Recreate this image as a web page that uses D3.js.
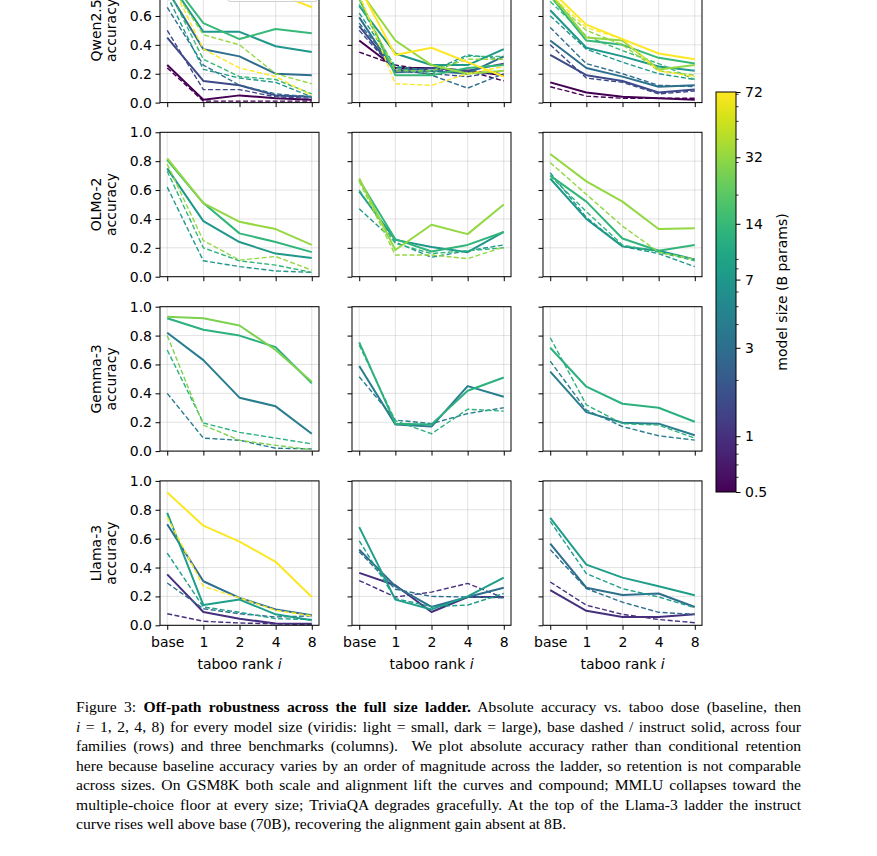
<!DOCTYPE html>
<html>
<head>
<meta charset="utf-8">
<script src="https://cdn.jsdelivr.net/npm/d3@7"></script>
<style>
  body { margin: 0; background: #fff; }
  svg { display: block; }
</style>
</head>
<body>
<script>
// categories
var ranks = ["base", "1", "2", "4", "8"];
var families = ["Qwen2.5", "OLMo-2", "Gemma-3", "Llama-3"];
var benchmarks = ["GSM8K", "MMLU", "TriviaQA"];
var sizeTicks = [0.5, 1, 3, 7, 14, 32, 72];
var sizeMinor = [0.6, 0.7, 0.8, 0.9, 2, 4, 5, 6, 8, 9, 20, 30, 40, 50, 60, 70];

// rows: [model size (B), variant, acc at base, i=1, i=2, i=4, i=8]
var qwenGSM8K = [
  [0.5, "base", 0.24, 0.01, 0.01, 0.01, 0.01],
  [0.5, "instruct", 0.26, 0.02, 0.05, 0.03, 0.02],
  [1.5, "base", 0.50, 0.09, 0.09, 0.04, 0.03],
  [1.5, "instruct", 0.45, 0.15, 0.12, 0.05, 0.04],
  [3, "base", 0.66, 0.26, 0.12, 0.06, 0.04],
  [3, "instruct", 0.78, 0.37, 0.32, 0.20, 0.19],
  [7, "base", 0.74, 0.23, 0.17, 0.14, 0.04],
  [7, "instruct", 0.86, 0.49, 0.49, 0.39, 0.35],
  [14, "base", 0.80, 0.30, 0.18, 0.16, 0.06],
  [14, "instruct", 0.88, 0.55, 0.44, 0.51, 0.48],
  [32, "base", 0.85, 0.47, 0.40, 0.20, 0.13],
  [32, "instruct", 0.93, 0.86, 0.84, 0.80, 0.78],
  [72, "base", 0.88, 0.37, 0.24, 0.18, 0.05],
  [72, "instruct", 0.94, 0.90, 0.86, 0.76, 0.66]
];
var qwenMMLU = [
  [0.5, "base", 0.35, 0.26, 0.22, 0.22, 0.15],
  [0.5, "instruct", 0.43, 0.24, 0.24, 0.22, 0.19],
  [1.5, "base", 0.50, 0.22, 0.20, 0.18, 0.22],
  [1.5, "instruct", 0.53, 0.22, 0.24, 0.22, 0.27],
  [3, "base", 0.55, 0.24, 0.19, 0.10, 0.20],
  [3, "instruct", 0.59, 0.21, 0.22, 0.20, 0.32],
  [7, "base", 0.62, 0.25, 0.22, 0.33, 0.30],
  [7, "instruct", 0.67, 0.34, 0.26, 0.26, 0.37],
  [14, "base", 0.68, 0.24, 0.20, 0.32, 0.32],
  [14, "instruct", 0.72, 0.19, 0.19, 0.24, 0.26],
  [32, "base", 0.72, 0.22, 0.22, 0.30, 0.30],
  [32, "instruct", 0.78, 0.43, 0.26, 0.20, 0.22],
  [72, "base", 0.75, 0.13, 0.12, 0.20, 0.25],
  [72, "instruct", 0.80, 0.33, 0.38, 0.28, 0.18]
];
var qwenTriviaQA = [
  [0.5, "base", 0.11, 0.045, 0.03, 0.03, 0.03],
  [0.5, "instruct", 0.14, 0.07, 0.04, 0.03, 0.02],
  [1.5, "base", 0.40, 0.17, 0.14, 0.06, 0.08],
  [1.5, "instruct", 0.33, 0.19, 0.15, 0.07, 0.09],
  [3, "base", 0.52, 0.27, 0.20, 0.12, 0.11],
  [3, "instruct", 0.43, 0.24, 0.18, 0.11, 0.12],
  [7, "base", 0.60, 0.37, 0.28, 0.20, 0.16],
  [7, "instruct", 0.64, 0.38, 0.32, 0.25, 0.22],
  [14, "base", 0.70, 0.46, 0.36, 0.27, 0.16],
  [14, "instruct", 0.74, 0.43, 0.40, 0.31, 0.27],
  [32, "base", 0.73, 0.50, 0.40, 0.22, 0.19],
  [32, "instruct", 0.76, 0.45, 0.43, 0.23, 0.26],
  [72, "base", 0.75, 0.52, 0.44, 0.22, 0.18],
  [72, "instruct", 0.78, 0.54, 0.44, 0.34, 0.30]
];
var olmoGSM8K = [
  [7, "base", 0.62, 0.11, 0.07, 0.04, 0.03],
  [7, "instruct", 0.75, 0.385, 0.24, 0.16, 0.13],
  [13, "base", 0.73, 0.20, 0.11, 0.08, 0.03],
  [13, "instruct", 0.81, 0.51, 0.30, 0.24, 0.17],
  [32, "base", 0.78, 0.25, 0.115, 0.14, 0.045],
  [32, "instruct", 0.82, 0.51, 0.38, 0.33, 0.22]
];
var olmoMMLU = [
  [7, "base", 0.47, 0.24, 0.135, 0.18, 0.22],
  [7, "instruct", 0.59, 0.255, 0.205, 0.17, 0.31],
  [13, "base", 0.60, 0.23, 0.16, 0.18, 0.20],
  [13, "instruct", 0.67, 0.26, 0.175, 0.22, 0.31],
  [32, "base", 0.66, 0.15, 0.15, 0.125, 0.205],
  [32, "instruct", 0.68, 0.185, 0.36, 0.295, 0.50]
];
var olmoTriviaQA = [
  [7, "base", 0.72, 0.41, 0.21, 0.16, 0.07],
  [7, "instruct", 0.68, 0.40, 0.21, 0.18, 0.12],
  [13, "base", 0.70, 0.45, 0.22, 0.17, 0.11],
  [13, "instruct", 0.70, 0.52, 0.265, 0.18, 0.22],
  [32, "base", 0.79, 0.57, 0.35, 0.17, 0.12],
  [32, "instruct", 0.85, 0.66, 0.52, 0.33, 0.335]
];
var gemmaGSM8K = [
  [4, "base", 0.40, 0.09, 0.075, 0.02, 0.015],
  [4, "instruct", 0.82, 0.63, 0.37, 0.31, 0.12],
  [12, "base", 0.70, 0.195, 0.13, 0.09, 0.05],
  [12, "instruct", 0.92, 0.84, 0.80, 0.72, 0.47],
  [27, "base", 0.80, 0.18, 0.075, 0.04, 0.01],
  [27, "instruct", 0.93, 0.92, 0.87, 0.70, 0.48]
];
var gemmaMMLU = [
  [4, "base", 0.515, 0.215, 0.19, 0.26, 0.30],
  [4, "instruct", 0.59, 0.185, 0.17, 0.45, 0.376],
  [12, "base", 0.735, 0.21, 0.12, 0.29, 0.277],
  [12, "instruct", 0.753, 0.19, 0.185, 0.418, 0.51]
];
var gemmaTriviaQA = [
  [4, "base", 0.623, 0.284, 0.17, 0.106, 0.076],
  [4, "instruct", 0.55, 0.27, 0.196, 0.19, 0.11],
  [12, "base", 0.785, 0.32, 0.19, 0.18, 0.09],
  [12, "instruct", 0.716, 0.446, 0.328, 0.30, 0.203]
];
var llamaGSM8K = [
  [1, "base", 0.08, 0.028, 0.016, 0.01, 0.005],
  [1, "instruct", 0.353, 0.092, 0.046, 0.012, 0.01],
  [3, "base", 0.293, 0.115, 0.08, 0.058, 0.065],
  [3, "instruct", 0.70, 0.305, 0.19, 0.11, 0.07],
  [8, "base", 0.50, 0.127, 0.09, 0.046, 0.04],
  [8, "instruct", 0.778, 0.14, 0.178, 0.076, 0.035],
  [70, "base", 0.75, 0.27, 0.19, 0.104, 0.065],
  [70, "instruct", 0.92, 0.69, 0.58, 0.44, 0.196]
];
var llamaMMLU = [
  [1, "base", 0.31, 0.196, 0.23, 0.29, 0.19],
  [1, "instruct", 0.363, 0.277, 0.092, 0.196, 0.196],
  [3, "base", 0.51, 0.25, 0.20, 0.196, 0.19],
  [3, "instruct", 0.524, 0.27, 0.127, 0.196, 0.26],
  [8, "base", 0.584, 0.185, 0.13, 0.14, 0.22],
  [8, "instruct", 0.68, 0.178, 0.11, 0.20, 0.33]
];
var llamaTriviaQA = [
  [1, "base", 0.30, 0.139, 0.076, 0.04, 0.018],
  [1, "instruct", 0.243, 0.10, 0.058, 0.058, 0.076],
  [3, "base", 0.524, 0.254, 0.16, 0.09, 0.076],
  [3, "instruct", 0.566, 0.26, 0.21, 0.22, 0.127],
  [8, "base", 0.72, 0.358, 0.254, 0.196, 0.122],
  [8, "instruct", 0.744, 0.42, 0.33, 0.27, 0.208]
];

var panels = [
  [qwenGSM8K, qwenMMLU, qwenTriviaQA],
  [olmoGSM8K, olmoMMLU, olmoTriviaQA],
  [gemmaGSM8K, gemmaMMLU, gemmaTriviaQA],
  [llamaGSM8K, llamaMMLU, llamaTriviaQA]
];

// layout
var W = 877, H = 856;
var colX = [160, 352, 543], rowY = [-41.8, 132.3, 306.7, 480.9];
var pw = 159, ph = 144.4;
var font = "'DejaVu Sans', sans-serif", fs = 14;

var svg = d3.select("body").append("svg")
    .attr("width", W)
    .attr("height", H);
svg.append("rect").attr("width", W).attr("height", H).attr("fill", "#fff");

svg.append("defs").append("clipPath")
    .attr("id", "clip")
  .append("rect")
    .attr("width", pw)
    .attr("height", ph);

var x = d3.scalePoint().domain(ranks).range([0, pw]).padding(0.2);
var y = d3.scaleLinear().domain([0, 1]).range([ph, 0]);
var color = d3.scaleSequentialLog(d3.interpolateViridis).domain([0.5, 72]);
var yTicks = [0, 0.2, 0.4, 0.6, 0.8, 1.0];

var line = d3.line()
    .x(function(d, i) { return x(ranks[i]); })
    .y(function(d) { return y(d); });

panels.forEach(function(row, r) {
  row.forEach(function(data, c) {
    var g = svg.append("g")
        .attr("transform", "translate(" + colX[c] + "," + rowY[r] + ")");

    // grid
    g.selectAll(".gy").data(yTicks).enter().append("line")
        .attr("x1", 0).attr("x2", pw)
        .attr("y1", function(d) { return y(d); })
        .attr("y2", function(d) { return y(d); })
        .attr("stroke", "#b0b0b0").attr("stroke-opacity", 0.35).attr("stroke-width", 1);
    g.selectAll(".gx").data(ranks).enter().append("line")
        .attr("x1", function(d) { return x(d); })
        .attr("x2", function(d) { return x(d); })
        .attr("y1", 0).attr("y2", ph)
        .attr("stroke", "#b0b0b0").attr("stroke-opacity", 0.35).attr("stroke-width", 1);

    // series
    var lines = g.append("g").attr("clip-path", "url(#clip)");
    data.forEach(function(d) {
      var solid = d[1] === "instruct";
      lines.append("path")
          .attr("d", line(d.slice(2)))
          .attr("fill", "none")
          .attr("stroke", color(d[0]))
          .attr("stroke-width", solid ? 2 : 1.4)
          .attr("stroke-dasharray", solid ? null : "5,2.4")
          .attr("stroke-linejoin", "round");
    });

    // axes
    var yAxis = d3.axisLeft(y).tickValues(yTicks).tickSize(4.5).tickPadding(3.5)
        .tickFormat(c === 0 ? d3.format(".1f") : "");
    var xAxis = d3.axisBottom(x).tickSize(4.5).tickPadding(3.5)
        .tickFormat(r === 3 ? null : "");
    var gY = g.append("g").call(yAxis);
    var gX = g.append("g").attr("transform", "translate(0," + ph + ")").call(xAxis);
    [gX, gY].forEach(function(a) {
      a.select(".domain").remove();
      a.selectAll(".tick line").attr("stroke", "#000").attr("stroke-width", 1);
      a.selectAll("text").attr("fill", "#000")
          .attr("font-family", font).attr("font-size", fs);
    });
    gX.selectAll("text").attr("dy", "1em");

    g.append("rect")
        .attr("width", pw).attr("height", ph)
        .attr("fill", "none").attr("stroke", "#000").attr("stroke-width", 1);

    if (c === 0) {
      var cy = ph / 2;
      g.append("text")
          .attr("transform", "translate(-59," + cy + ") rotate(-90)")
          .attr("text-anchor", "middle")
          .attr("font-family", font).attr("font-size", fs)
          .text(families[r]);
      g.append("text")
          .attr("transform", "translate(-44.5," + cy + ") rotate(-90)")
          .attr("text-anchor", "middle")
          .attr("font-family", font).attr("font-size", fs)
          .text("accuracy");
    }
    if (r === 3) {
      var lab = g.append("text")
          .attr("x", pw / 2).attr("y", ph + 43.5)
          .attr("text-anchor", "middle")
          .attr("font-family", font).attr("font-size", fs);
      lab.append("tspan").text("taboo rank ");
      lab.append("tspan").attr("font-style", "italic").text("i");
    }
    if (r === 0 && c === 0) {
      // legend (mostly above the visible page)
      var lg = g.append("g").attr("transform", "translate(68,-4)");
      lg.append("rect")
          .attr("width", 89).attr("height", 47.3).attr("rx", 2)
          .attr("fill", "#fff").attr("fill-opacity", 0.8)
          .attr("stroke", "#d0d0d0").attr("stroke-width", 1);
      [["base", "5,2.4"], ["instruct", null]].forEach(function(e, i) {
        lg.append("line").attr("x1", 7).attr("x2", 33)
            .attr("y1", 14 + i * 19).attr("y2", 14 + i * 19)
            .attr("stroke", "#444").attr("stroke-width", 1.6)
            .attr("stroke-dasharray", e[1]);
        lg.append("text").attr("x", 41).attr("y", 18.5 + i * 19)
            .attr("font-family", font).attr("font-size", fs).text(e[0]);
      });
    }
  });
});

// colorbar
var cbX = 716, cbW = 20, cbTop = 92, cbBot = 492;
var cbScale = d3.scaleLog().domain([0.5, 72]).range([cbBot, cbTop]);
var grad = svg.select("defs").append("linearGradient")
    .attr("id", "viridis").attr("x1", 0).attr("y1", 1).attr("x2", 0).attr("y2", 0);
d3.range(0, 1.0001, 0.02).forEach(function(t) {
  grad.append("stop").attr("offset", t).attr("stop-color", d3.interpolateViridis(t));
});
svg.append("rect")
    .attr("x", cbX).attr("y", cbTop).attr("width", cbW).attr("height", cbBot - cbTop)
    .attr("fill", "url(#viridis)");
var gC = svg.append("g").attr("transform", "translate(" + (cbX + cbW) + ",0)");
gC.call(d3.axisRight(cbScale).tickValues(sizeTicks).tickSize(4.5).tickPadding(4.5)
    .tickFormat(d3.format("~g")));
gC.select(".domain").remove();
gC.selectAll(".tick line").attr("stroke", "#000");
gC.selectAll("text").attr("fill", "#000").attr("font-family", font).attr("font-size", fs);
gC.selectAll(".minor").data(sizeMinor).enter().append("line")
    .attr("x1", 0).attr("x2", 2.6)
    .attr("y1", function(d) { return cbScale(d); })
    .attr("y2", function(d) { return cbScale(d); })
    .attr("stroke", "#000").attr("stroke-width", 0.8);
svg.append("rect")
    .attr("x", cbX).attr("y", cbTop).attr("width", cbW).attr("height", cbBot - cbTop)
    .attr("fill", "none").attr("stroke", "#000").attr("stroke-width", 1);
svg.append("text")
    .attr("transform", "translate(787," + ((cbTop + cbBot) / 2) + ") rotate(-90)")
    .attr("text-anchor", "middle")
    .attr("font-family", font).attr("font-size", fs)
    .text("model size (B params)");

// caption, justified line by line
var caption = [
  [["Figure 3: ", ""], ["Off-path robustness across the full size ladder.", "b"], [" Absolute accuracy vs. taboo dose (baseline, then", ""]],
  [["i", "i"], [" = 1, 2, 4, 8) for every model size (viridis: light = small, dark = large), base dashed / instruct solid, across four", ""]],
  [["families (rows) and three benchmarks (columns).  We plot absolute accuracy rather than conditional retention", ""]],
  [["here because baseline accuracy varies by an order of magnitude across the ladder, so retention is not comparable", ""]],
  [["across sizes. On GSM8K both scale and alignment lift the curves and compound; MMLU collapses toward the", ""]],
  [["multiple-choice floor at every size; TriviaQA degrades gracefully. At the top of the Llama-3 ladder the instruct", ""]],
  [["curve rises well above base (70B), recovering the alignment gain absent at 8B.", ""]]
];
var capX = 76, capW = 725;
caption.forEach(function(segs, i) {
  var t = svg.append("text")
      .attr("x", capX).attr("y", 712 + i * 19.5)
      .attr("font-family", "'Liberation Serif', 'Times New Roman', serif")
      .attr("font-size", 15.6)
      .attr("fill", "#000")
      .style("white-space", "pre");
  var full = "";
  segs.forEach(function(s) {
    t.append("tspan")
        .attr("font-weight", s[1] === "b" ? "bold" : null)
        .attr("font-style", s[1] === "i" ? "italic" : null)
        .text(s[0]);
    full += s[0];
  });
  if (i < caption.length - 1) {
    var w = t.node().getComputedTextLength();
    var n = (full.match(/ /g) || []).length;
    t.style("word-spacing", ((capW - w) / n) + "px");
  }
});
</script>
</body>
</html>
